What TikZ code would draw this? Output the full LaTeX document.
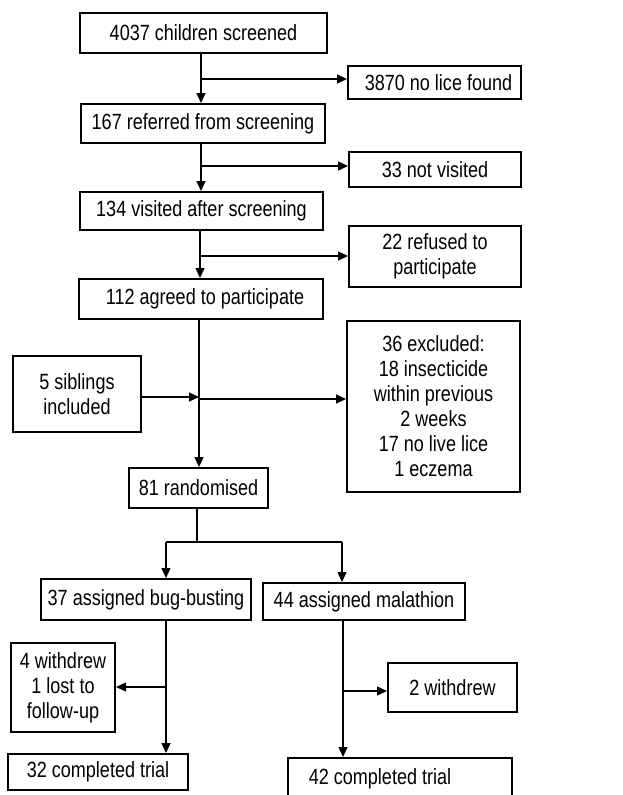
\documentclass[tikz,border=0pt]{standalone}
\usepackage{fontspec}
\setmainfont{Liberation Sans}[FakeStretch=0.82]
\usetikzlibrary{arrows.meta}
\tikzset{
  box/.style={draw, line width=2pt, inner sep=0pt, align=center, font=\fontsize{22}{25}\selectfont},
  conn/.style={line width=1.4pt, -{Triangle[length=10pt,width=9pt]}},
  plain/.style={line width=1.4pt},
}
\begin{document}
\begin{tikzpicture}[x=1pt,y=-1pt]
\useasboundingbox (0,0) rectangle (622,795);
% boxes
\node[box, minimum width=247pt, minimum height=40pt] (b1) at (203.5,33) {4037 children screened};
\node[box, minimum width=173pt, minimum height=33pt] (n1) at (434.5,82.5) {\hspace*{8pt}3870 no lice found};
\node[box, minimum width=244pt, minimum height=39pt] (b2) at (203,123.5) {167 referred from screening};
\node[box, minimum width=172pt, minimum height=35pt] (n2) at (435,169.5) {33 not visited};
\node[box, minimum width=243pt, minimum height=38pt] (b3) at (201.5,211) {134 visited after screening};
\node[box, minimum width=172pt, minimum height=61pt] (n3) at (435,256.5) {22 refused to\\participate};
\node[box, minimum width=244pt, minimum height=40pt] (b4) at (201,299) {\hspace*{8pt}112 agreed to participate};
\node[box, minimum width=128pt, minimum height=76pt] (sib) at (77,394) {5 siblings\\included};
\node[box, minimum width=173pt, minimum height=171pt] (exc) at (433.5,406.5) {36 excluded:\\18 insecticide\\within previous\\2 weeks\\17 no live lice\\1 eczema};
\node[box, minimum width=139pt, minimum height=40pt] (rnd) at (198.5,488) {81 randomised};
\node[box, minimum width=210pt, minimum height=41pt] (bb) at (146,599.5) {37 assigned bug-busting};
\node[box, minimum width=202pt, minimum height=37pt] (mal) at (364,601.5) {44 assigned malathion};
\node[box, minimum width=104pt, minimum height=89pt] (wd1) at (63,687.5) {4 withdrew\\1 lost to\\follow-up};
\node[box, minimum width=129pt, minimum height=49pt] (wd2) at (452.5,687.5) {2 withdrew};
\node[box, minimum width=180pt, minimum height=36pt] (c1) at (98,772) {32 completed trial};
\node[box, minimum width=224pt, minimum height=46pt, anchor=north] (c2) at (400,757) {\raisebox{8pt}{42 completed trial\hspace*{40pt}}};
% junction coordinates
\coordinate (j1) at (201,79);
\coordinate (j2) at (201,166);
\coordinate (j3) at (200,256);
\coordinate (js) at (199,397);
\coordinate (je) at (199,399);
\coordinate (jr) at (197,542);
\coordinate (jl) at (166,542);
\coordinate (jm) at (342,542);
\coordinate (jb) at (166,687);
\coordinate (jw) at (343,691);
% main flow
\draw[conn] (b1.south -| j1) -- (b2.north -| j1);
\draw[conn] (j1) -- (j1 -| n1.west);
\draw[conn] (b2.south -| j2) -- (b3.north -| j2);
\draw[conn] (j2) -- (j2 -| n2.west);
\draw[conn] (b3.south -| j3) -- (b4.north -| j3);
\draw[conn] (j3) -- (j3 -| n3.west);
\draw[conn] (b4.south -| js) -- (rnd.north -| js);
\draw[conn] (sib.east |- js) -- (js);
\draw[conn] (je) -- (je -| exc.west);
% randomisation split
\draw[plain] (rnd.south -| jr) -- (jr);
\draw[plain] (jl) -- (jm);
\draw[conn] (jl) -- (bb.north -| jl);
\draw[conn] (jm) -- (mal.north -| jm);
% bug-busting arm
\draw[conn] (bb.south -| jb) -- (c1.north -| jb);
\draw[conn] (jb) -- (wd1.east |- jb);
% malathion arm
\draw[conn] (mal.south -| jw) -- (c2.north -| jw);
\draw[conn] (jw) -- (wd2.west |- jw);
\end{tikzpicture}
\end{document}
